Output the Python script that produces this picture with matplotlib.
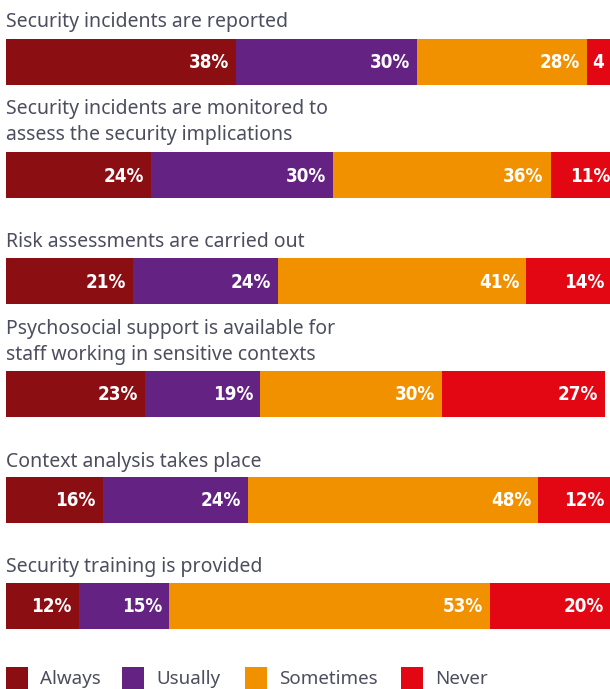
import matplotlib
matplotlib.use("Agg")
import matplotlib.pyplot as plt
from matplotlib.patches import Rectangle

# Survey answers per statement (percent)
questions = [
    "Security incidents are reported",
    "Security incidents are monitored to\nassess the security implications",
    "Risk assessments are carried out",
    "Psychosocial support is available for\nstaff working in sensitive contexts",
    "Context analysis takes place",
    "Security training is provided",
]
categories = ["Always", "Usually", "Sometimes", "Never"]
always = [38, 24, 21, 23, 16, 12]
usually = [30, 30, 24, 19, 24, 15]
sometimes = [28, 36, 41, 30, 48, 53]
never = [4, 11, 14, 27, 12, 20]
colors = ["#8b0e13", "#642383", "#f29100", "#e30613"]

W, H = 610, 689
fig = plt.figure(figsize=(W / 100, H / 100), dpi=100)
ax = fig.add_axes([0, 0, 1, 1])
px = 6.05  # pixels per percentage point
ax.set_xlim(-6 / px, (W - 6) / px)
ax.set_ylim(H, 0)
ax.axis("off")

bar_y = [62, 175, 281, 394, 500, 606]
title_y = [22, 122, 242, 342, 462, 567]
text_col = "#4c4e5e"

series = [always, usually, sometimes, never]
for i, q in enumerate(questions):
    ax.text(0, title_y[i], q, fontsize=14, color=text_col, va="center",
            ha="left", family="Noto Sans", linespacing=1.4)
    left = 0
    for j, vals in enumerate(series):
        v = vals[i]
        ax.barh(bar_y[i], v, left=left, height=46, color=colors[j], linewidth=0)
        lab = f"{v}%" if v >= 5 else f"{v}"
        ax.text(left + v - 7 / px, bar_y[i] + 1, lab, color="white",
                fontsize=13.5, fontweight="bold", fontstretch="condensed",
                ha="right", va="center", family="DejaVu Sans")
        left += v

# legend row
leg_x = [6, 122, 245, 401]
for j, c in enumerate(categories):
    x0 = (leg_x[j] - 6) / px
    ax.add_patch(Rectangle((x0, 667), 22 / px, 22, color=colors[j], linewidth=0,
                           clip_on=False))
    ax.text(x0 + 34 / px, 679, c, fontsize=13.5, color=text_col, va="center",
            ha="left", family="Noto Sans")

fig.savefig("out.png", dpi=100)
